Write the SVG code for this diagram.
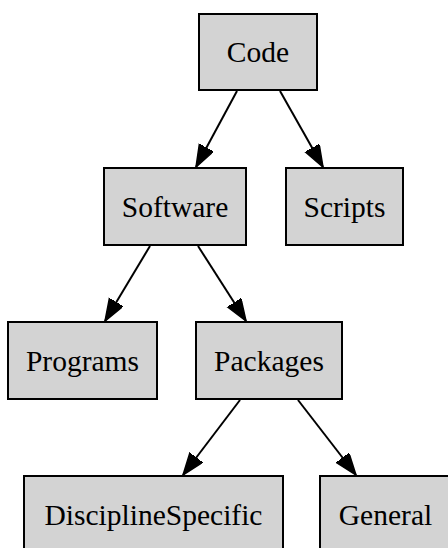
<svg xmlns="http://www.w3.org/2000/svg" width="448" height="548" viewBox="0 0 448 548">
  <style>
    .node rect { fill: #d3d3d3; stroke: #000; stroke-width: 2; }
    .node text { font-family: "Liberation Serif", "Times New Roman", serif; font-size: 29.5px; text-anchor: middle; fill: #000; }
    .edge { stroke: #000; stroke-width: 2; fill: none; marker-end: url(#arrow); }
  </style>
  <defs>
    <marker id="arrow" markerUnits="userSpaceOnUse" markerWidth="24" markerHeight="18" refX="22" refY="8" orient="auto">
      <path d="M0,0 L22,8 L0,16 Z" fill="#000" stroke="#000" stroke-width="1.5"/>
    </marker>
  </defs>
  <rect width="448" height="548" fill="#fff"/>

  <g id="edges">
    <line class="edge" x1="237" y1="91" x2="196" y2="167"/>
    <line class="edge" x1="280" y1="91" x2="323" y2="167"/>
    <line class="edge" x1="150" y1="246" x2="105" y2="321"/>
    <line class="edge" x1="198" y1="246" x2="246" y2="321"/>
    <line class="edge" x1="240" y1="400" x2="183" y2="475"/>
    <line class="edge" x1="298" y1="400" x2="356" y2="475"/>
  </g>

  <g id="code" class="node">
    <rect x="199" y="14" width="118" height="76"/>
    <text x="258" y="62">Code</text>
  </g>
  <g id="software" class="node">
    <rect x="104" y="168" width="142" height="77"/>
    <text x="175" y="217">Software</text>
  </g>
  <g id="scripts" class="node">
    <rect x="286" y="168" width="117" height="77"/>
    <text x="344.5" y="217">Scripts</text>
  </g>
  <g id="programs" class="node">
    <rect x="8" y="322" width="149" height="77"/>
    <text x="82.5" y="371">Programs</text>
  </g>
  <g id="packages" class="node">
    <rect x="196" y="322" width="146" height="77"/>
    <text x="269" y="371">Packages</text>
  </g>
  <g id="disciplinespecific" class="node">
    <rect x="24" y="476" width="259" height="77"/>
    <text x="153.5" y="525">DisciplineSpecific</text>
  </g>
  <g id="general" class="node">
    <rect x="320" y="476" width="131" height="77"/>
    <text x="385.5" y="525">General</text>
  </g>
</svg>
